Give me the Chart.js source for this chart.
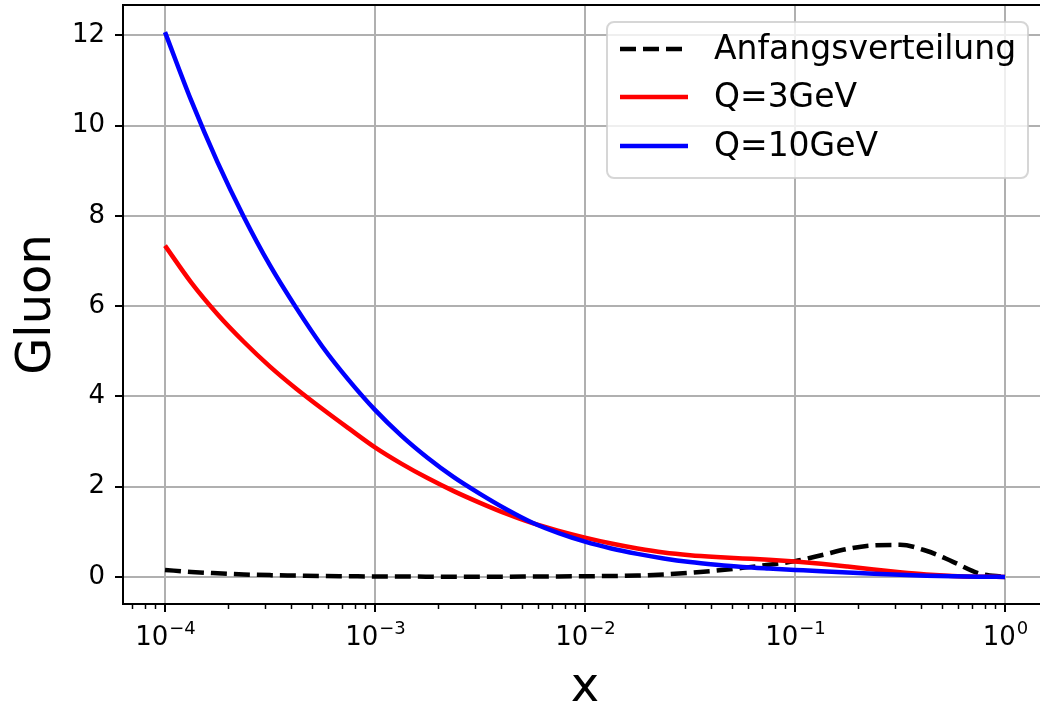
<!DOCTYPE html>
<html>
<head>
<meta charset="utf-8">
<script src="https://cdn.jsdelivr.net/npm/chart.js@4.4.1/dist/chart.umd.min.js"></script>
<style>
  html, body { margin: 0; padding: 0; background: #fff; overflow: hidden; }
  #wrap { position: absolute; left: 0; top: 0; width: 1050px; height: 708px; }
</style>
</head>
<body>
<div id="wrap"><canvas id="gluon"></canvas></div>
<script>
// x positions (8 per decade)
var xs = [1.000e-4, 1.334e-4, 1.778e-4, 2.371e-4, 3.162e-4, 4.217e-4, 5.623e-4, 7.499e-4,
          1.000e-3, 1.334e-3, 1.778e-3, 2.371e-3, 3.162e-3, 4.217e-3, 5.623e-3, 7.499e-3,
          1.000e-2, 1.334e-2, 1.778e-2, 2.371e-2, 3.162e-2, 4.217e-2, 5.623e-2, 7.499e-2,
          0.1000, 0.1334, 0.1778, 0.2371, 0.3162, 0.4217, 0.5623, 0.7499,
          1.0];

var anfang = [0.155, 0.11, 0.08, 0.055, 0.04, 0.03, 0.02, 0.015,
              0.01, 0.008, 0.006, 0.005, 0.005, 0.006, 0.008, 0.011,
              0.015, 0.02, 0.03, 0.055, 0.09, 0.14, 0.20, 0.27,
              0.35, 0.48, 0.62, 0.70, 0.71, 0.58, 0.34, 0.08,
              0.0];
var q3 = [7.34, 6.52, 5.82, 5.21, 4.66, 4.17, 3.72, 3.29,
          2.87, 2.51, 2.19, 1.90, 1.64, 1.40, 1.19, 1.02,
          0.87, 0.74, 0.63, 0.54, 0.48, 0.44, 0.41, 0.38,
          0.34, 0.29, 0.23, 0.165, 0.105, 0.055, 0.022, 0.006,
          0.0];
var q10 = [12.07, 10.55, 9.19, 7.98, 6.90, 5.96, 5.10, 4.36,
           3.70, 3.13, 2.64, 2.21, 1.84, 1.50, 1.20, 0.97,
           0.78, 0.63, 0.51, 0.41, 0.33, 0.27, 0.22, 0.185,
           0.155, 0.125, 0.097, 0.07, 0.047, 0.028, 0.013, 0.004,
           0.0];

var xTickValues = [1e-4, 1e-3, 1e-2, 1e-1, 1];
var xTickBase = ['10', '10', '10', '10', '10'];
var xTickExp = ['\u22124', '\u22123', '\u22122', '\u22121', '0'];
var yTickValues = [0, 2, 4, 6, 8, 10, 12];

function pts(ys) {
    return xs.map(function (x, i) { return { x: x, y: ys[i] }; });
}

var FONT = 'DejaVu Sans';

// minor ticks, x tick labels, top spine and legend box
var extras = {
    id: 'extras',
    afterDraw: function (chart) {
        var c = chart.ctx, a = chart.chartArea, sx = chart.scales.x;
        c.save();
        c.strokeStyle = '#000';
        c.lineWidth = 1.5;
        for (var e = -5; e <= 0; e++) {
            for (var m = 2; m <= 9; m++) {
                var v = m * Math.pow(10, e);
                if (v < sx.min || v > sx.max) continue;
                var px = Math.round(sx.getPixelForValue(v)) + 0.5;
                c.beginPath();
                c.moveTo(px, a.bottom);
                c.lineTo(px, a.bottom + 5);
                c.stroke();
            }
        }

        // x tick labels with raised exponent
        c.fillStyle = '#000';
        c.textBaseline = 'alphabetic';
        c.textAlign = 'left';
        xTickValues.forEach(function (v, i) {
            var cx = sx.getPixelForValue(v);
            c.font = '26px "' + FONT + '"';
            var w1 = c.measureText(xTickBase[i]).width;
            c.font = '18px "' + FONT + '"';
            var w2 = c.measureText(xTickExp[i]).width;
            var x0 = cx - (w1 + w2) / 2;
            c.font = '26px "' + FONT + '"';
            c.fillText(xTickBase[i], x0, 645);
            c.font = '18px "' + FONT + '"';
            c.fillText(xTickExp[i], x0 + w1 + 1, 634);
        });

        // top spine
        c.lineWidth = 2;
        c.beginPath();
        c.moveTo(a.left - 1, a.top);
        c.lineTo(a.right, a.top);
        c.stroke();

        // legend
        var bx = 607, by = 22, bw = 421, bh = 156, r = 7;
        c.beginPath();
        c.moveTo(bx + r, by);
        c.arcTo(bx + bw, by, bx + bw, by + bh, r);
        c.arcTo(bx + bw, by + bh, bx, by + bh, r);
        c.arcTo(bx, by + bh, bx, by, r);
        c.arcTo(bx, by, bx + bw, by, r);
        c.closePath();
        c.fillStyle = 'rgba(255,255,255,0.8)';
        c.fill();
        c.strokeStyle = 'rgba(204,204,204,0.8)';
        c.lineWidth = 2;
        c.stroke();

        var rows = [49, 97, 146];
        chart.data.datasets.forEach(function (ds, i) {
            c.strokeStyle = ds.borderColor;
            c.lineWidth = ds.borderWidth;
            c.setLineDash(ds.borderDash || []);
            c.beginPath();
            c.moveTo(620, rows[i]);
            c.lineTo(688, rows[i]);
            c.stroke();
            c.setLineDash([]);
            c.fillStyle = '#000';
            c.font = '33px "' + FONT + '"';
            c.textBaseline = 'middle';
            c.textAlign = 'left';
            c.fillText(ds.label, 714, rows[i] + 1);
        });
        c.restore();
    }
};

new Chart(document.getElementById('gluon').getContext('2d'), {
    type: 'line',
    data: {
        datasets: [{
            label: 'Anfangsverteilung',
            data: pts(anfang),
            borderColor: '#000000',
            borderWidth: 4.5,
            borderDash: [16, 7],
            order: 2
        }, {
            label: 'Q=3GeV',
            data: pts(q3),
            borderColor: '#ff0000',
            borderWidth: 4.5,
            order: 1
        }, {
            label: 'Q=10GeV',
            data: pts(q10),
            borderColor: '#0000ff',
            borderWidth: 4.5,
            order: 0
        }]
    },
    options: {
        responsive: true,
        maintainAspectRatio: false,
        animation: false,
        layout: { padding: { left: 0, right: 3, top: 5, bottom: 0 } },
        elements: {
            point: { radius: 0 },
            line: { cubicInterpolationMode: 'monotone', fill: false }
        },
        plugins: {
            legend: { display: false },
            tooltip: { enabled: false }
        },
        scales: {
            x: {
                type: 'logarithmic',
                min: Math.pow(10, -4.2),
                max: Math.pow(10, 0.2),
                afterBuildTicks: function (s) {
                    s.ticks = xTickValues.map(function (v) { return { value: v, major: true }; });
                },
                afterFit: function (s) {
                    s.height = 104;
                    s.paddingLeft = 0;
                    s.paddingRight = 0;
                },
                ticks: {
                    autoSkip: false,
                    maxRotation: 0,
                    color: 'rgba(0,0,0,0)',
                    font: { family: FONT, size: 26 },
                    callback: function (v, i) { return xTickBase[i] + xTickExp[i]; }
                },
                grid: {
                    color: '#b0b0b0',
                    lineWidth: 2,
                    tickColor: '#000',
                    tickLength: 8,
                    tickWidth: 2
                },
                border: { color: '#000', width: 2 },
                title: {
                    display: true,
                    text: 'x',
                    color: '#000',
                    font: { family: FONT, size: 48 },
                    padding: { top: 0, bottom: -9 }
                }
            },
            y: {
                min: -0.6,
                max: 12.67,
                afterBuildTicks: function (s) {
                    s.ticks = yTickValues.map(function (v) { return { value: v }; });
                },
                afterFit: function (s) {
                    s.width = 123;
                    s.paddingTop = 0;
                    s.paddingBottom = 0;
                },
                ticks: {
                    padding: 10,
                    color: '#000',
                    font: { family: FONT, size: 26 }
                },
                grid: {
                    color: '#b0b0b0',
                    lineWidth: 2,
                    tickColor: '#000',
                    tickLength: 8,
                    tickWidth: 2
                },
                border: { color: '#000', width: 2 },
                title: {
                    display: true,
                    text: 'Gluon',
                    color: '#000',
                    font: { family: FONT, size: 48 },
                    padding: { top: 9, bottom: 0 }
                }
            }
        }
    },
    plugins: [extras]
});
</script>
</body>
</html>
